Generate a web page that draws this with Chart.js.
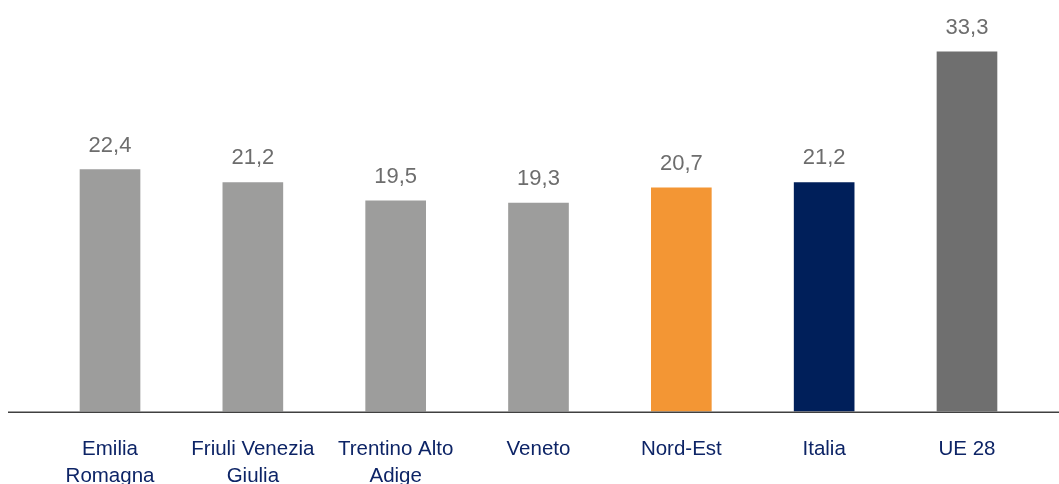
<!DOCTYPE html>
<html>
<head>
<meta charset="utf-8">
<script src="https://cdn.jsdelivr.net/npm/chart.js@4"></script>
<style>
  html, body { margin: 0; padding: 0; background: #fff; }
  #wrap { width: 1059px; height: 484px; position: relative; overflow: hidden; }
</style>
</head>
<body>
<div id="wrap"><canvas id="barChart"></canvas></div>
<script>
const regions = [["Emilia", "Romagna"], ["Friuli Venezia", "Giulia"], ["Trentino Alto", "Adige"], "Veneto", "Nord-Est", "Italia", "UE 28"];
const values = [22.4, 21.2, 19.5, 19.3, 20.7, 21.2, 33.3];
const barColors = ["#9d9d9c", "#9d9d9c", "#9d9d9c", "#9d9d9c", "#f39634", "#001f5a", "#6f6f6f"];

// value labels above bars + long baseline
const barLabels = {
    id: "barLabels",
    afterDatasetsDraw(chart) {
        const ctx = chart.ctx;
        const meta = chart.getDatasetMeta(0);
        ctx.save();
        ctx.font = "22px 'Liberation Sans'";
        ctx.fillStyle = "#6d6d6d";
        ctx.textAlign = "center";
        ctx.textBaseline = "alphabetic";
        meta.data.forEach((bar, i) => {
            ctx.fillText(values[i].toFixed(1).replace(".", ","), bar.x, bar.y - 18);
        });
        const y0 = chart.scales.y.getPixelForValue(0);
        ctx.strokeStyle = "#404040";
        ctx.lineWidth = 1.5;
        ctx.beginPath();
        ctx.moveTo(8, y0 + 0.75);
        ctx.lineTo(chart.width, y0 + 0.75);
        ctx.stroke();
        ctx.restore();
    }
};

new Chart(document.getElementById("barChart"), {
    type: "bar",
    data: {
        labels: regions,
        datasets: [{
            data: values,
            backgroundColor: barColors,
            barThickness: 60
        }]
    },
    options: {
        responsive: true,
        maintainAspectRatio: false,
        animation: false,
        layout: { padding: { left: 38.6, right: 20.6, top: 1, bottom: 0 } },
        plugins: { legend: { display: false }, tooltip: { enabled: false } },
        scales: {
            x: {
                grid: { display: false, drawTicks: false },
                border: { display: false },
                ticks: {
                    color: "#0d2466",
                    font: { family: "'Liberation Sans'", size: 20.5, lineHeight: 1.33 },
                    padding: 24,
                    maxRotation: 0,
                    autoSkip: false
                },
                afterFit(scale) { scale.height = 72.5; }
            },
            y: {
                display: false,
                min: 0,
                max: 38
            }
        }
    },
    plugins: [barLabels]
});
</script>
</body>
</html>
